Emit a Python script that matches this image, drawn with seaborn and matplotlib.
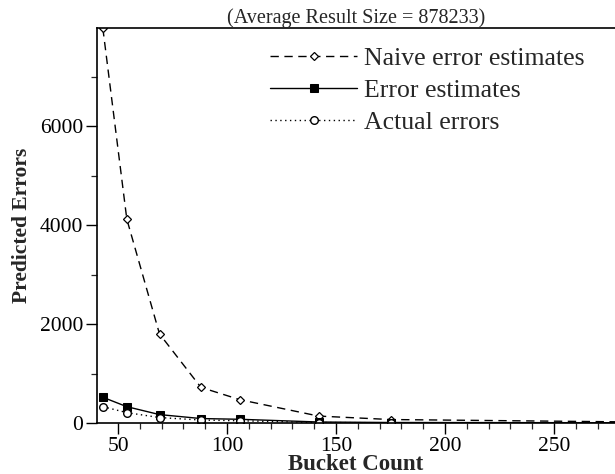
import numpy as np
import pandas as pd
import matplotlib
matplotlib.use('Agg')
import matplotlib.pyplot as plt
from matplotlib.ticker import MultipleLocator
import seaborn as sns

# values
bucket_count = [43, 54, 69, 88, 106, 142, 175, 300]
naive_est = [7980, 4120, 1800, 720, 470, 140, 70, 15]
error_est = [520, 330, 170, 90, 75, 20, 10, 5]
actual_err = [330, 210, 110, 60, 45, 10, 5, 2]

title_txt = '(Average Result Size = 878233)'

sns.set_style("ticks")
plt.rcParams['font.family'] = ['Liberation Serif', 'DejaVu Serif']

fig = plt.figure(figsize=(6.15, 4.74), dpi=100)
ax = fig.add_axes([0.158, 0.1076, 0.842, 0.834])

sns.lineplot(x=bucket_count, y=naive_est, ax=ax, color='black', lw=1,
             linestyle=(0, (6, 4)), marker='D', markersize=4,
             markerfacecolor='white', markeredgecolor='black', markeredgewidth=0.9,
             label='Naive error estimates')
sns.lineplot(x=bucket_count, y=error_est, ax=ax, color='black', lw=1,
             linestyle='-', marker='s', markersize=5.5,
             markerfacecolor='black', markeredgecolor='black',
             label='Error estimates')
sns.lineplot(x=bucket_count, y=actual_err, ax=ax, color='black', lw=1,
             linestyle=(0, (1, 2.5)), marker='o', markersize=5.5,
             markerfacecolor='white', markeredgecolor='black', markeredgewidth=1,
             label='Actual errors')

ax.set_xlim(40.4, 278)
ax.set_ylim(0, 7990)

ax.xaxis.set_major_locator(MultipleLocator(50))
ax.xaxis.set_minor_locator(MultipleLocator(10))
ax.yaxis.set_major_locator(MultipleLocator(2000))
ax.yaxis.set_minor_locator(MultipleLocator(1000))
ax.tick_params(which='major', direction='out', length=8, width=1, labelsize=15.5,
               colors='black', pad=2)
ax.tick_params(which='minor', direction='out', length=4, width=0.9)

for s in ['left', 'top', 'bottom']:
    ax.spines[s].set_linewidth(1.2)
    ax.spines[s].set_color('black')
ax.spines['right'].set_visible(False)

ax.set_xlabel('Bucket Count', fontsize=16.5, fontweight='bold', labelpad=-1)
ax.set_ylabel('Predicted Errors', fontsize=15.5, fontweight='bold', labelpad=6)
ax.set_title(title_txt, fontsize=14.5, pad=1)

leg = ax.legend(loc='upper left', bbox_to_anchor=(0.334, 0.952), frameon=False,
                fontsize=18.5, handlelength=3.4, handletextpad=0.27, labelspacing=0.36,
                borderpad=0, borderaxespad=0)

plt.savefig('out.png', dpi=100)
